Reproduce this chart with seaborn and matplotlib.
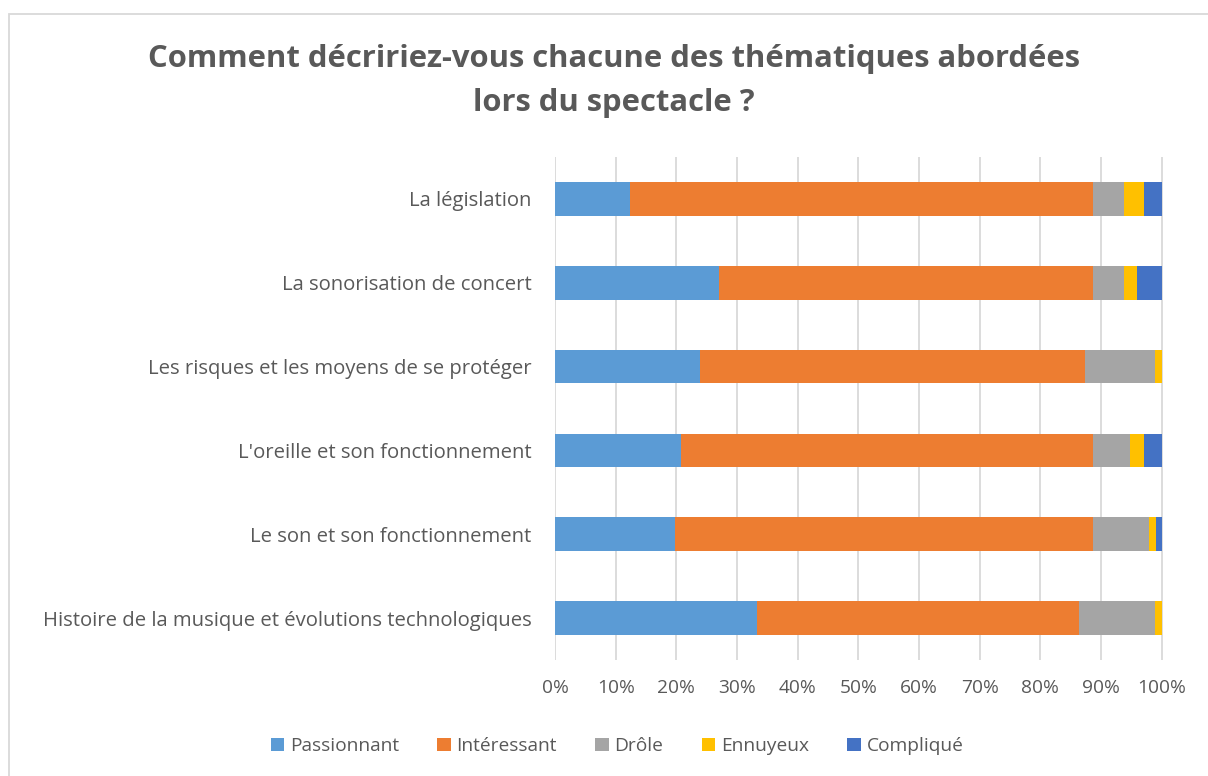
import matplotlib
matplotlib.use("Agg")
import matplotlib.pyplot as plt
import seaborn as sns
import numpy as np
import pandas as pd
from matplotlib.patches import Rectangle, Patch

categories = [
    "La législation",
    "La sonorisation de concert",
    "Les risques et les moyens de se protéger",
    "L'oreille et son fonctionnement",
    "Le son et son fonctionnement",
    "Histoire de la musique et évolutions technologiques",
]
series_names = ["Passionnant", "Intéressant", "Drôle", "Ennuyeux", "Compliqué"]
passionnant = [12.4, 27.1, 23.9, 20.8, 19.7, 33.3]
interessant = [76.2, 61.5, 63.5, 67.8, 68.9, 53.1]
drole = [5.1, 5.1, 11.5, 6.2, 9.3, 12.5]
ennuyeux = [3.3, 2.2, 1.1, 2.2, 1.1, 1.1]
complique = [3.0, 4.1, 0.0, 3.0, 1.0, 0.0]
colors = ["#5B9BD5", "#ED7D31", "#A5A5A5", "#FFC000", "#4472C4"]
xticks = [0, 10, 20, 30, 40, 50, 60, 70, 80, 90, 100]
xtick_labels = [f"{t}%" for t in xticks]
title = "Comment décririez-vous chacune des thématiques abordées\nlors du spectacle ?"

sns.set_theme(style="white")
plt.rcParams['font.family'] = ['Open Sans', 'DejaVu Sans']

fig = plt.figure(figsize=(12.08, 7.76), dpi=100)
ax = fig.add_axes([555/1208, 1 - 660/776, (1163-555)/1208, (660-157)/776])

vals = np.array([passionnant, interessant, drole, ennuyeux, complique])
totals = vals.sum(axis=0)
pct = vals / totals * 100
cum = np.cumsum(pct, axis=0)

for i in range(len(series_names) - 1, -1, -1):
    df = pd.DataFrame({"cat": categories, "val": cum[i]})
    sns.barplot(data=df, y="cat", x="val", orient="h", color=colors[i],
                width=0.4, ax=ax, saturation=1, edgecolor="none", linewidth=0,
                zorder=3)

ax.set_xlim(0, 100.2)
ax.set_xticks(xticks)
ax.set_xticklabels(xtick_labels)
ax.set_ylim(len(categories) - 0.5, -0.5)
ax.set_xlabel("")
ax.set_ylabel("")
for s in ax.spines.values():
    s.set_visible(False)
ax.grid(axis="x", color="#D9D9D9", linewidth=1.3, zorder=0)
ax.set_axisbelow(True)
ax.tick_params(axis="both", length=0, labelcolor="#595959")
ax.tick_params(axis="x", pad=14, labelsize=13.8)
ax.tick_params(axis="y", pad=17, labelsize=14.6)

hs = [Patch(facecolor=colors[i], edgecolor="none") for i in range(len(series_names))]
fig.legend(hs, series_names, loc="center", bbox_to_anchor=(617/1208, 1 - 746/776),
           ncol=5, frameon=False, fontsize=13.8, labelcolor="#595959",
           handlelength=0.7, handleheight=0.7, handletextpad=0.3, columnspacing=2.0)

fig.text(614/1208, 1 - 81/776, title, ha="center", va="center", fontsize=22.3,
         fontweight="bold", color="#595959", linespacing=1.6)

fig.add_artist(Rectangle((9/1208, -0.1), 1.2, 1 - 13.5/776 + 0.1, transform=fig.transFigure,
                         fill=False, edgecolor="#D9D9D9", linewidth=1.3))

fig.savefig("out.png", dpi=100)
